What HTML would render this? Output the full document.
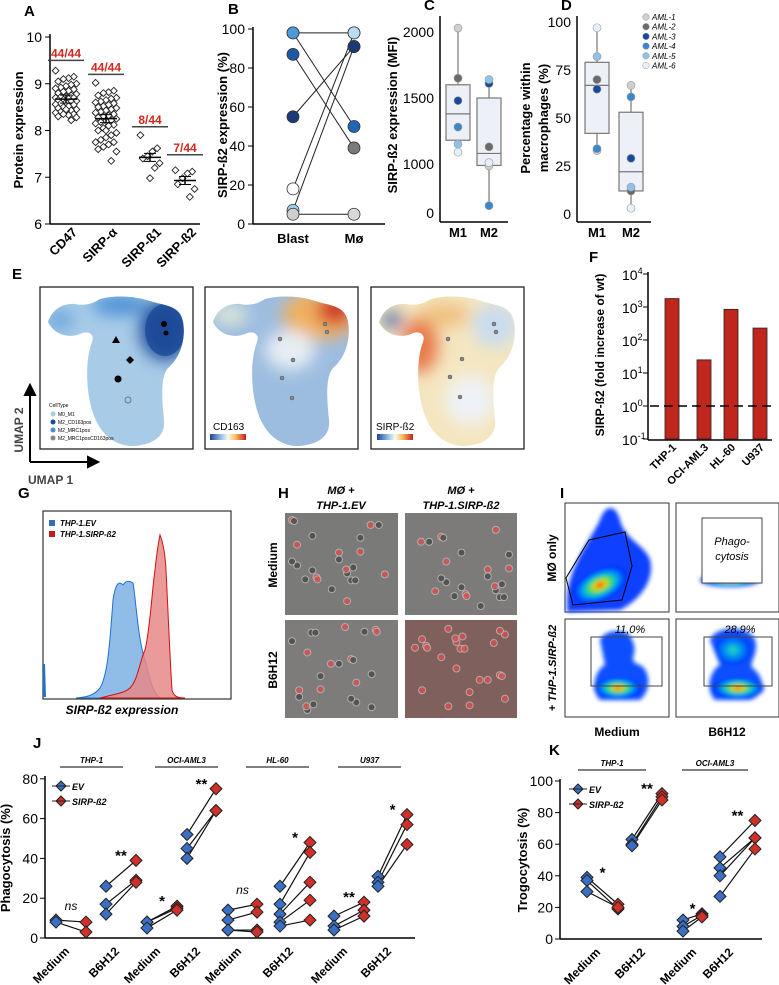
<!DOCTYPE html>
<html><head><meta charset="utf-8"><style>
html,body{margin:0;padding:0;background:#fff;}
svg{display:block;font-family:"Liberation Sans",Arial,sans-serif;}
.b{font-weight:bold;}
.lab{font-weight:bold;font-size:15px;}
.tk{font-size:13px;}
</style></head><body>
<svg id="fig" width="779" height="985" viewBox="0 0 779 985" xmlns="http://www.w3.org/2000/svg">
<defs>
<radialGradient id="jet" cx="50%" cy="50%" r="50%">
<stop offset="0" stop-color="#e00000"/><stop offset="0.2" stop-color="#ffd000"/><stop offset="0.4" stop-color="#30e060"/><stop offset="0.6" stop-color="#00b0f0"/><stop offset="0.85" stop-color="#0040ff"/><stop offset="1" stop-color="#0030ff" stop-opacity="0.9"/></radialGradient>
<radialGradient id="jet2" cx="50%" cy="50%" r="50%">
<stop offset="0" stop-color="#30e0a0"/><stop offset="0.4" stop-color="#00a0f0"/><stop offset="1" stop-color="#0030ff"/></radialGradient>
<linearGradient id="cbar" x1="0" x2="1"><stop offset="0" stop-color="#2040a0"/><stop offset="0.3" stop-color="#90c0e0"/><stop offset="0.5" stop-color="#f8f8f0"/><stop offset="0.7" stop-color="#f8c060"/><stop offset="1" stop-color="#c02020"/></linearGradient>
<filter id="blur" x="-50%" y="-50%" width="200%" height="200%"><feGaussianBlur stdDeviation="8"/></filter>
<filter id="blur2" x="-50%" y="-50%" width="200%" height="200%"><feGaussianBlur stdDeviation="2"/></filter>
<path id="blob" d="M48,322 C52,310 62,303 75,304 C85,306 92,304 100,299 C115,295 135,296 150,301 C165,306 180,305 183,322 C186,340 180,358 168,368 C160,378 162,400 164,420 C166,438 150,446 130,446 C110,444 98,430 92,410 C86,390 85,360 92,342 C95,334 88,330 80,334 C70,338 55,336 48,322 Z"/>
<clipPath id="c1"><use href="#blob"/></clipPath>
<clipPath id="c2"><use href="#blob" transform="translate(165,0)"/></clipPath>
<clipPath id="c3"><use href="#blob" transform="translate(331,0)"/></clipPath>
</defs>

<g class="lab">
<text x="24" y="16">A</text><text x="228" y="14">B</text><text x="424" y="10">C</text><text x="561" y="10">D</text>
<text x="12" y="279">E</text><text x="589" y="262">F</text><text x="18" y="498">G</text>
<text x="278" y="498">H</text><text x="560" y="498">I</text><text x="33" y="748">J</text><text x="549" y="755">K</text>
</g>

<g>
<line x1="50" y1="34" x2="50" y2="224" stroke="#000" stroke-width="1.5"/>
<line x1="50" y1="224" x2="200" y2="224" stroke="#000" stroke-width="1.5"/>
<text transform="translate(23,130) rotate(-90)" text-anchor="middle" class="b" font-size="13">Protein expression</text>
<g id="aMarks"></g>
</g>

<g>
<line x1="253" y1="27" x2="253" y2="224" stroke="#000" stroke-width="1.5"/>
<line x1="253" y1="224" x2="385" y2="224" stroke="#000" stroke-width="1.5"/>
<text transform="translate(227,125) rotate(-90)" text-anchor="middle" class="b" font-size="13">SIRP-ß2 expression (%)</text>
<g id="bMarks"></g>
</g>

<g>
<line x1="440" y1="16" x2="440" y2="222" stroke="#000" stroke-width="1.5"/>
<line x1="440" y1="222" x2="508" y2="222" stroke="#000" stroke-width="1.5"/>
<text transform="translate(397,115) rotate(-90)" text-anchor="middle" class="b" font-size="13">SIRP-ß2 expression (MFI)</text>
<g id="cMarks"></g>
</g>

<g>
<line x1="577" y1="16" x2="577" y2="222" stroke="#000" stroke-width="1.5"/>
<line x1="577" y1="222" x2="651" y2="222" stroke="#000" stroke-width="1.5"/>
<text transform="translate(530,118) rotate(-90)" text-anchor="middle" class="b" font-size="13">Percentage within</text>
<text transform="translate(548,118) rotate(-90)" text-anchor="middle" class="b" font-size="13">macrophages (%)</text>
<g id="dMarks"></g>
<g id="dLegend" font-size="8" font-style="italic"></g>
</g>

<g>
<rect x="40" y="287" width="153" height="162" fill="#fff" stroke="#222" stroke-width="1.3"/>
<rect x="205" y="287" width="153" height="162" fill="#fff" stroke="#222" stroke-width="1.3"/>
<rect x="371" y="287" width="153" height="162" fill="#fff" stroke="#222" stroke-width="1.3"/>
<g clip-path="url(#c1)">
<rect x="40" y="287" width="153" height="162" fill="#a8cbe8"/>
<g filter="url(#blur)"><ellipse cx="165" cy="330" rx="25" ry="30" fill="#1d4a98"/><ellipse cx="120" cy="305" rx="28" ry="10" fill="#4a8ed4"/><ellipse cx="60" cy="320" rx="14" ry="10" fill="#6aa6dc"/></g>
<ellipse cx="165" cy="330" rx="20" ry="26" fill="#1d4a98" opacity="0.8"/>
</g>
<g clip-path="url(#c2)">
<rect x="205" y="287" width="153" height="162" fill="#9dbde0"/>
<g filter="url(#blur)"><ellipse cx="320" cy="315" rx="38" ry="25" fill="#f0b060"/><ellipse cx="335" cy="310" rx="18" ry="15" fill="#d03020"/><ellipse cx="290" cy="350" rx="25" ry="20" fill="#e8eef4"/><ellipse cx="230" cy="315" rx="18" ry="10" fill="#e0e8d8"/></g>
</g>
<g clip-path="url(#c3)">
<rect x="371" y="287" width="153" height="162" fill="#f4e6c0"/>
<g filter="url(#blur)"><ellipse cx="420" cy="345" rx="18" ry="28" fill="#e87848"/><ellipse cx="445" cy="315" rx="25" ry="12" fill="#f0c080"/><ellipse cx="495" cy="325" rx="22" ry="22" fill="#c8dcf0"/><ellipse cx="392" cy="320" rx="10" ry="8" fill="#4060a8"/><ellipse cx="470" cy="400" rx="25" ry="25" fill="#eef2f6"/></g>
</g>
<g fill="#000"><circle cx="164" cy="324" r="3"/><circle cx="166" cy="333" r="2.5"/><polygon points="116,336 120,343 112,343"/><polygon points="130,356 134,360 130,364 126,360"/><circle cx="118" cy="379" r="3.5"/></g>
<circle cx="128" cy="400" r="3" fill="none" stroke="#777"/>
<g fill="#888" stroke="#555" stroke-width="0.5"><circle cx="325" cy="324" r="2"/><circle cx="327" cy="332" r="2"/><circle cx="280" cy="339" r="2"/><circle cx="293" cy="360" r="2"/><circle cx="282" cy="378" r="2"/><circle cx="292" cy="398" r="2"/><circle cx="494" cy="324" r="2"/><circle cx="496" cy="332" r="2"/><circle cx="448" cy="339" r="2"/><circle cx="462" cy="359" r="2"/><circle cx="450" cy="377" r="2"/><circle cx="460" cy="397" r="2"/></g>
<g font-size="5">
<text x="49" y="407">CellType</text>
<circle cx="53" cy="414" r="2.5" fill="#a8cbe8"/><text x="58" y="416">M0_M1</text>
<circle cx="53" cy="422" r="2.5" fill="#1d4a98"/><text x="58" y="424">M2_CD163pos</text>
<circle cx="53" cy="430" r="2.5" fill="#4a8ed4"/><text x="58" y="432">M2_MRC1pos</text>
<circle cx="53" cy="438" r="2.5" fill="#888"/><text x="58" y="440">M2_MRC1posCD163pos</text>
</g>
<text x="213" y="430" font-size="10">CD163</text>
<rect x="210" y="434" width="36" height="6" fill="url(#cbar)"/>
<text x="376" y="430" font-size="10">SIRP-ß2</text>
<rect x="377" y="434" width="36" height="6" fill="url(#cbar)"/>
<g stroke="#000" stroke-width="2" fill="#000">
<line x1="30" y1="462" x2="30" y2="393"/><polygon points="25,395 35,395 30,385"/>
<line x1="30" y1="462" x2="90" y2="462"/><polygon points="88,457 88,467 98,462"/>
</g>
<text transform="translate(23,430) rotate(-90)" text-anchor="middle" class="b" font-size="12" fill="#444">UMAP 2</text>
<text x="28" y="484" class="b" font-size="12" fill="#444">UMAP 1</text>
</g>

<g>
<line x1="648" y1="272" x2="648" y2="440" stroke="#000" stroke-width="1.5"/>
<line x1="648" y1="440" x2="772" y2="440" stroke="#000" stroke-width="1.5"/>
<text transform="translate(604,355) rotate(-90)" text-anchor="middle" class="b" font-size="12">SIRP-ß2 (fold increase of wt)</text>
<g id="fMarks"></g>
</g>

<g>
<rect x="43" y="511" width="188" height="188" fill="#fff" stroke="#333" stroke-width="1.2"/>
<path d="M76,698 C90,697 95,694 100,688 C108,675 110,640 113,600 C116,580 120,582 123,585 C126,580 130,581 133,583 C136,600 138,640 145,660 C150,680 153,693 160,698 Z" fill="#8fbde8" stroke="#2070d0" stroke-width="1"/>
<path d="M100,698 C115,694 125,693 130,688 C138,680 140,660 145,650 C150,630 152,590 155,570 C157,550 159,540 160,535 C162,540 165,550 166,570 C168,610 170,660 172,690 C174,697 178,698 185,698 Z" fill="#e88888" fill-opacity="0.85" stroke="#d01010" stroke-width="1"/>
<path d="M43,664 L45,664 L46,697 L43,697 Z" fill="#2070d0"/>
<rect x="49" y="520" width="6" height="6" fill="#2f6dc0"/><text x="60" y="526" font-size="8" class="b" font-style="italic">THP-1.EV</text>
<rect x="49" y="531" width="6" height="6" fill="#c02020"/><text x="60" y="537" font-size="8" class="b" font-style="italic">THP-1.SIRP-ß2</text>
<text x="122" y="714" text-anchor="middle" class="b" font-style="italic" font-size="12">SIRP-ß2 expression</text>
</g>

<g>
<g class="b" font-style="italic" font-size="11" text-anchor="middle">
<text x="341" y="494">MØ +</text><text x="341" y="509">THP-1.EV</text>
<text x="461" y="494">MØ +</text><text x="461" y="509">THP-1.SIRP-ß2</text></g>
<rect x="285" y="513" width="113" height="102" fill="#7a7a78"/>
<rect x="405" y="513" width="112" height="102" fill="#7c7b7a"/>
<rect x="285" y="620" width="113" height="98" fill="#7d7c7a"/>
<rect x="405" y="620" width="112" height="98" fill="#80605c"/>
<g id="cells"></g>
<text transform="translate(277,565) rotate(-90)" text-anchor="middle" class="b" font-size="12">Medium</text>
<text transform="translate(277,670) rotate(-90)" text-anchor="middle" class="b" font-size="12">B6H12</text>
</g>

<g>
<rect x="565" y="503" width="104" height="109" fill="#fff" stroke="#333"/>
<rect x="676" y="503" width="103" height="109" fill="#fff" stroke="#333"/>
<rect x="565" y="619" width="104" height="98" fill="#fff" stroke="#333"/>
<rect x="676" y="619" width="103" height="98" fill="#fff" stroke="#333"/>
<g filter="url(#blur2)">
<path d="M567,600 C567,570 590,540 600,520 C605,505 615,503 620,520 C625,540 645,545 650,560 C655,580 640,600 620,610 L567,612 Z" fill="#1040ff"/>
<ellipse cx="600" cy="585" rx="30" ry="16" fill="url(#jet)" transform="rotate(-25 600 585)"/>
<ellipse cx="730" cy="580" rx="30" ry="7" fill="url(#jet)"/>
<path d="M600,640 C605,628 630,628 632,640 C640,655 625,660 640,665 C650,670 652,690 640,700 L600,700 C590,690 595,670 605,665 Z" fill="#1050ff"/>
<ellipse cx="618" cy="688" rx="24" ry="11" fill="url(#jet)"/>
<path d="M710,640 C715,625 750,625 755,640 C760,655 745,665 755,670 C765,680 765,695 750,700 L715,700 C705,690 710,670 720,665 Z" fill="#1050ff"/>
<ellipse cx="733" cy="650" rx="18" ry="15" fill="url(#jet2)"/>
<ellipse cx="738" cy="688" rx="26" ry="11" fill="url(#jet)"/>
</g>
<polygon points="589,540 625,532 632,566 622,600 573,605 566,578" fill="none" stroke="#000" stroke-width="1"/>
<rect x="702" y="518" width="60" height="65" fill="#fff" stroke="#444"/>
<text x="732" y="545" text-anchor="middle" font-style="italic" font-size="11">Phago-</text>
<text x="732" y="560" text-anchor="middle" font-style="italic" font-size="11">cytosis</text>
<rect x="591" y="637" width="71" height="49" fill="none" stroke="#444"/>
<rect x="704" y="637" width="68" height="49" fill="none" stroke="#444"/>
<text x="630" y="633" text-anchor="middle" font-style="italic" font-size="11">11,0%</text>
<text x="740" y="633" text-anchor="middle" font-style="italic" font-size="11">28,9%</text>
<text transform="translate(556,558) rotate(-90)" text-anchor="middle" class="b" font-size="12">MØ only</text>
<text transform="translate(556,668) rotate(-90)" text-anchor="middle" class="b" font-style="italic" font-size="11">+ THP-1.SIRP-ß2</text>
<text x="617" y="736" text-anchor="middle" class="b" font-size="12">Medium</text>
<text x="727" y="736" text-anchor="middle" class="b" font-size="12">B6H12</text>
</g>

<g>
<line x1="45" y1="776" x2="45" y2="938" stroke="#000" stroke-width="1.5"/>
<line x1="45" y1="938" x2="415" y2="938" stroke="#000" stroke-width="1.5"/>
<text transform="translate(10,858) rotate(-90)" text-anchor="middle" class="b" font-size="13">Phagocytosis (%)</text>
<g id="jMarks"></g>
</g>

<g>
<line x1="560" y1="779" x2="560" y2="939" stroke="#000" stroke-width="1.5"/>
<line x1="560" y1="939" x2="762" y2="939" stroke="#000" stroke-width="1.5"/>
<text transform="translate(527,860) rotate(-90)" text-anchor="middle" class="b" font-size="13">Trogocytosis (%)</text>
<g id="kMarks"></g>
</g>
</svg>
<script>
const aCategories = ["CD47","SIRP-α","SIRP-ß1","SIRP-ß2"];
const aCounts = ["44/44","44/44","8/44","7/44"];
const aCountLevel = [9.5, 9.2, 8.08, 7.48];
const aCD47 = [9.28,9.15,9.12,9.1,9.05,9.0,8.98,8.95,8.92,8.9,8.88,8.85,8.83,8.8,8.78,8.75,8.73,8.72,8.7,8.7,8.68,8.66,8.65,8.63,8.62,8.6,8.58,8.56,8.55,8.52,8.5,8.48,8.45,8.43,8.42,8.4,8.38,8.35,8.33,8.35,8.3,8.28,8.22,8.45];
const aSIRPa = [9.02,8.85,8.82,8.8,8.75,8.7,8.68,8.65,8.62,8.6,8.58,8.55,8.52,8.5,8.48,8.45,8.43,8.4,8.38,8.35,8.32,8.3,8.28,8.25,8.22,8.2,8.18,8.15,8.12,8.1,8.05,8.0,7.95,7.9,7.85,7.8,7.75,7.75,7.7,7.65,7.6,7.55,7.35,8.0];
const aSIRPb1 = [7.9,7.62,7.55,7.45,7.4,7.3,7.2,6.98];
const aSIRPb2 = [7.15,7.12,7.08,6.98,6.85,6.75,6.58];
const aTicks = [6,7,8,9,10];
const bBlast = [98,98,87,55,18,7,5];
const bMo = [98,50,39,91,98,91,5];
const bBlastColors = ["#4a9ad8","#4a9ad8","#1f5aa6","#1a3a78","#ffffff","#9fd0ec","#cfcfcf"];
const bMoColors = ["#b8ddf2","#2166b4","#7a7a7a","#1a3a78","#b8ddf2","#1a3a78","#d8d8d8"];
const bTicks = [0,20,40,60,80,100];
const cGroups = ["M1","M2"];
const cM1 = [2030,1650,1480,1280,1150,1090];
const cM2 = [960,1130,1610,150,1640,1010];
const cBoxM1 = [1090,1180,1380,1600,2030];
const cBoxM2 = [150,970,1080,1500,1640];
const cTicks = [0,1000,1500,2000];
const dM1 = [33,70,65,34,82,97];
const dM2 = [67,12,29,61,14,3];
const dBoxM1 = [33,42,67,79,97];
const dBoxM2 = [3,12,22,53,67];
const dTicks = [0,25,50,75,100];
const amlNames = ["AML-1","AML-2","AML-3","AML-4","AML-5","AML-6"];
const amlColors = ["#cfcfcf","#6a6a6a","#174a9a","#3c88cc","#8fc2e6","#e6f0fa"];
const fLines = ["THP-1","OCI-AML3","HL-60","U937"];
const fValues = [1800,25,850,230];
const fTicks = [-1,0,1,2,3,4];
const jLines = ["THP-1","OCI-AML3","HL-60","U937"];
const jConds = ["Medium","B6H12","Medium","B6H12","Medium","B6H12","Medium","B6H12"];
const jEV = [[9,8],[26,17,12],[8,8,5],[52,45,40],[14,9,4,4],[26,17,12,8,6],[11,6,4],[31,28,26]];
const jSIRP = [[8,3],[39,29,28],[16,15,14],[75,64,64],[17,13,4,3],[48,43,28,19,9],[18,14,11],[62,57,47]];
const jSig = ["ns","**","*","**","ns","*","**","*"];
const jTicks = [0,20,40,60,80];
const kLines = ["THP-1","OCI-AML3"];
const kConds = ["Medium","B6H12","Medium","B6H12"];
const kEV = [[39,37,30],[63,60,59],[12,8,5],[52,45,40,27]];
const kSIRP = [[22,19,20],[92,90,88],[16,15,14],[75,64,64,57]];
const kSig = ["*","**","*","**"];
const kTicks = [0,20,40,60,80,100];

const NS="http://www.w3.org/2000/svg";
function mk(parent,tag,attrs,txt){const e=document.createElementNS(NS,tag);for(const k in attrs)e.setAttribute(k,attrs[k]);if(txt!==undefined)e.textContent=txt;parent.appendChild(e);return e;}
function diamond(p,x,y,s,fill,stroke,sw){return mk(p,"polygon",{points:`${x},${y-s} ${x+s},${y} ${x},${y+s} ${x-s},${y}`,fill:fill,stroke:stroke,"stroke-width":sw});}
function mean(a){return a.reduce((s,v)=>s+v,0)/a.length;}

(function(){
const g=document.getElementById("aMarks");const yA=v=>224-(v-6)*46.75;
const xs=[66,106,150,185];
aTicks.forEach(t=>{mk(g,"line",{x1:45,x2:50,y1:yA(t),y2:yA(t),stroke:"#000"});
const tx=mk(g,"text",{x:42,y:yA(t)+5,"text-anchor":"end","font-size":14},t);

});
const series=[aCD47,aSIRPa,aSIRPb1,aSIRPb2];
series.forEach((s,ci)=>{
 s.forEach((v,i)=>{const off=((i*7)%9-4)*(ci<2?2.6:2.4);
  const d=diamond(g,xs[ci]+off,yA(v),3.4,"#fff","#222",0.9);
  
  });
 const m=mean(s);mk(g,"line",{x1:xs[ci]-11,x2:xs[ci]+11,y1:yA(m),y2:yA(m),stroke:"#000","stroke-width":1.5});
 mk(g,"line",{x1:xs[ci],x2:xs[ci],y1:yA(m)-4,y2:yA(m)+4,stroke:"#000","stroke-width":1.5});
 mk(g,"line",{x1:xs[ci]-6,x2:xs[ci]+6,y1:yA(m)-4,y2:yA(m)-4,stroke:"#000"});
 mk(g,"line",{x1:xs[ci]-6,x2:xs[ci]+6,y1:yA(m)+4,y2:yA(m)+4,stroke:"#000"});
 const lv=yA(aCountLevel[ci]);
 mk(g,"line",{x1:xs[ci]-18,x2:xs[ci]+18,y1:lv,y2:lv,stroke:"#444","stroke-width":1.5});
 const ct=mk(g,"text",{x:xs[ci],y:lv-3,"text-anchor":"middle",fill:"#d02a20","font-weight":"bold","font-size":12},aCounts[ci]);
 
 
 const xl=mk(g,"text",{transform:`translate(${xs[ci]+12},233) rotate(-45)`,"text-anchor":"end","font-weight":"bold","font-size":13},aCategories[ci]);
 
 
});
})();

(function(){
const g=document.getElementById("bMarks");const yB=v=>224-v*1.95;const xb=293,xm=354;
bTicks.forEach(t=>{mk(g,"line",{x1:248,x2:253,y1:yB(t),y2:yB(t),stroke:"#000"});mk(g,"text",{x:245,y:yB(t)+5,"text-anchor":"end","font-size":14},t);});
bBlast.forEach((v,i)=>{mk(g,"line",{x1:xb,y1:yB(v),x2:xm,y2:yB(bMo[i]),stroke:"#222","stroke-width":1});});
bBlast.forEach((v,i)=>{
 const c1=mk(g,"circle",{cx:xb,cy:yB(v),r:6,fill:bBlastColors[i],stroke:"#333","stroke-width":0.8});
 
 
 const c2=mk(g,"circle",{cx:xm,cy:yB(bMo[i]),r:6,fill:bMoColors[i],stroke:"#333","stroke-width":0.8});
 
 });
mk(g,"text",{x:xb,y:243,"text-anchor":"middle","font-weight":"bold","font-size":13},"Blast");
mk(g,"text",{x:xm,y:243,"text-anchor":"middle","font-weight":"bold","font-size":13},"Mø");
})();

function boxPanel(gid,ax,xs,sM1,sM2,b1,b2,ticks,yf){
 const g=document.getElementById(gid);
 ticks.forEach(t=>{mk(g,"text",{x:ax-6,y:yf(t)+5,"text-anchor":"end","font-size":14},t);});
 [b1,b2].forEach((b,k)=>{const x=xs[k];
  mk(g,"line",{x1:x,x2:x,y1:yf(b[0]),y2:yf(b[4]),stroke:"#777","stroke-width":1.2});
  const r=mk(g,"rect",{x:x-12,y:yf(b[3]),width:24,height:yf(b[1])-yf(b[3]),fill:"#eef0f8",stroke:"#777","stroke-width":1.2});
  
  
  mk(g,"line",{x1:x-12,x2:x+12,y1:yf(b[2]),y2:yf(b[2]),stroke:"#777","stroke-width":1.2});
  mk(g,"text",{x:x,y:237,"text-anchor":"middle","font-weight":"bold","font-size":13},cGroups[k]);});
 [sM1,sM2].forEach((s,k)=>{s.forEach((v,i)=>{
  const c=mk(g,"circle",{cx:xs[k],cy:yf(v),r:4,fill:amlColors[i],stroke:"#999","stroke-width":0.6});
  
  });});
}
boxPanel("cMarks",440,[458,489],cM1,cM2,cBoxM1,cBoxM2,cTicks,v=>v>=1000?164-(v-1000)*0.132:213-v*0.049);
boxPanel("dMarks",577,[597,631],dM1,dM2,dBoxM1,dBoxM2,dTicks,v=>214-v*1.92);
(function(){const g=document.getElementById("dLegend");
amlNames.forEach((n,i)=>{mk(g,"circle",{cx:646,cy:17+i*9.7,r:3.3,fill:amlColors[i],stroke:"#999","stroke-width":0.5});
const t=mk(g,"text",{x:652,y:20+i*9.7},n);

});})();

(function(){
const g=document.getElementById("fMarks");const yF=v=>439-(Math.log10(v)+1)*33;const xs=[672,704,731,760];
fTicks.forEach(t=>{const y=439-(t+1)*33;mk(g,"line",{x1:643,x2:648,y1:y,y2:y,stroke:"#000"});
 const tx=mk(g,"text",{x:622,y:y+6,"font-size":14},"10");mk(tx,"tspan",{dy:-6,"font-size":9},String(t));});
fValues.forEach((v,i)=>{const r=mk(g,"rect",{x:xs[i]-7,y:yF(v),width:14,height:439-yF(v),fill:"#c0261c",stroke:"#222","stroke-width":0.8});
 
 
 mk(g,"text",{transform:`translate(${xs[i]+5},448) rotate(-45)`,"text-anchor":"end","font-weight":"bold","font-size":11},fLines[i]);});
mk(g,"line",{x1:650,x2:772,y1:yF(1),y2:yF(1),stroke:"#000","stroke-width":1.5,"stroke-dasharray":"9,5"});
})();

(function(){const g=document.getElementById("cells");
const tiles=[[285,513,113,102,0.1],[405,513,112,102,0.25],[285,620,113,98,0.3],[405,620,112,98,0.9]];
tiles.forEach((t,k)=>{for(let i=0;i<24;i++){
 const fx=((i*i*7+i*13+k*29)%97)/97, fy=((i*i*11+i*5+k*17)%89)/89;
 const x=t[0]+7+fx*(t[2]-14);const y=t[1]+7+fy*(t[3]-14);
 const red=((i*i*3+i+k)%10)/10<t[4];
 mk(g,"circle",{cx:x,cy:y,r:3.5,fill:red?"#d85050":"#4a4a4a",stroke:"#bbb","stroke-width":1,opacity:0.8});}});})();

function pairedPanel(gid,yf,xEV,xSI,EV,SI,conds,sig,ticks,ax,lines,lineSpans,legendX,legendY){
 const g=document.getElementById(gid);
 ticks.forEach(t=>{mk(g,"line",{x1:ax-5,x2:ax,y1:yf(t),y2:yf(t),stroke:"#000"});mk(g,"text",{x:ax-7,y:yf(t)+5,"text-anchor":"end","font-size":14},t);});
 EV.forEach((ev,c)=>{
  ev.forEach((v,i)=>{mk(g,"line",{x1:xEV[c],y1:yf(v),x2:xSI[c],y2:yf(SI[c][i]),stroke:"#111","stroke-width":1.2});});
  ev.forEach(v=>{const d=diamond(g,xEV[c],yf(v),6,"#3b6fc4","#222",1);
   
   });
  SI[c].forEach(v=>{const d=diamond(g,xSI[c],yf(v),6,"#d0302a","#222",1);
   
   });
  const top=Math.max(...ev,...SI[c]);const mx=(xEV[c]+xSI[c])/2;
  mk(g,"text",{x:mx,y:yf(top)+(sig[c]==="ns"?-10:0),"text-anchor":"middle","font-size":sig[c]==="ns"?12:15,"font-style":sig[c]==="ns"?"italic":"normal","font-weight":sig[c]==="ns"?"normal":"bold"},sig[c]);
  const xl=mk(g,"text",{transform:`translate(${xEV[c]+14},${yf(0)+14}) rotate(-45)`,"text-anchor":"end","font-weight":"bold","font-size":12},conds[c]);
  
  
 });
 lines.forEach((n,i)=>{const s=lineSpans[i];mk(g,"line",{x1:s[0],x2:s[1],y1:s[2],y2:s[2],stroke:"#000"});
  mk(g,"text",{x:(s[0]+s[1])/2,y:s[2]-4,"text-anchor":"middle","font-weight":"bold","font-style":"italic","font-size":8},n);});
 diamond(g,legendX,legendY,5,"#3b6fc4","#222",1);mk(g,"line",{x1:legendX-9,x2:legendX+9,y1:legendY,y2:legendY,stroke:"#222"});
 mk(g,"text",{x:legendX+11,y:legendY+4,"font-weight":"bold","font-style":"italic","font-size":9},"EV");
 diamond(g,legendX,legendY+15,5,"#d0302a","#222",1);mk(g,"line",{x1:legendX-9,x2:legendX+9,y1:legendY+15,y2:legendY+15,stroke:"#222"});
 mk(g,"text",{x:legendX+11,y:legendY+19,"font-weight":"bold","font-style":"italic","font-size":9},"SIRP-ß2");
}
pairedPanel("jMarks",v=>938-v*1.99,[56,106,147,187,228,280,334,378],[86,136,177,216,257,310,364,407],jEV,jSIRP,jConds,jSig,jTicks,45,jLines,[[60,123,767],[155,218,767],[246,309,767],[338,401,767]],61,786);
pairedPanel("kMarks",v=>939-v*1.58,[587,632,683,720],[618,662,702,755],kEV,kSIRP,kConds,kSig,kTicks,560,kLines,[[578,646,770],[682,748,770]],578,789);
</script>
</body></html>
